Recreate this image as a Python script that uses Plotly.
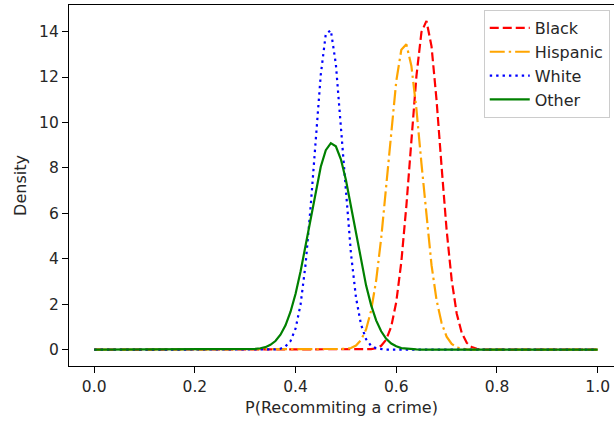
import plotly.graph_objects as go

# ---- data ----
x_black = [0.00, 0.54, 0.55, 0.56, 0.57, 0.58, 0.59, 0.60, 0.61, 0.62, 0.63, 0.64, 0.65, 0.66,
           0.67, 0.68, 0.69, 0.70, 0.71, 0.72, 0.73, 0.74, 0.75, 0.76, 0.77, 0.78, 1.00]
y_black = [0.0, 0.0, 0.02, 0.06, 0.17, 0.44, 1.02, 2.10, 3.86, 6.32, 9.24, 12.04, 13.98, 14.47,
           13.35, 10.98, 8.05, 5.26, 3.07, 1.59, 0.74, 0.30, 0.11, 0.04, 0.01, 0.0, 0.0]

x_hisp = [0.00, 0.49, 0.50, 0.51, 0.52, 0.53, 0.54, 0.55, 0.56, 0.57, 0.58, 0.59, 0.60, 0.61,
          0.62, 0.63, 0.64, 0.65, 0.66, 0.67, 0.68, 0.69, 0.70, 0.71, 0.72, 0.73, 0.74, 0.75, 1.00]
y_hisp = [0.0, 0.0, 0.03, 0.07, 0.18, 0.42, 0.89, 1.72, 3.04, 4.90, 7.20, 9.66, 11.82, 13.20,
          13.44, 12.49, 10.59, 8.19, 5.78, 3.72, 2.18, 1.17, 0.57, 0.25, 0.10, 0.04, 0.01, 0.0, 0.0]

x_white = [0.00, 0.35, 0.36, 0.37, 0.38, 0.39, 0.40, 0.41, 0.42, 0.43, 0.44, 0.45, 0.46, 0.47,
           0.48, 0.49, 0.50, 0.51, 0.52, 0.53, 0.54, 0.55, 0.56, 0.57, 0.58, 1.00]
y_white = [0.0, 0.0, 0.01, 0.04, 0.14, 0.38, 0.93, 2.00, 3.78, 6.32, 9.30, 12.10, 13.89, 14.06,
           12.57, 9.91, 6.90, 4.23, 2.29, 1.10, 0.46, 0.17, 0.06, 0.02, 0.0, 0.0]

x_other = [0.00, 0.29, 0.30, 0.31, 0.32, 0.33, 0.34, 0.35, 0.36, 0.37, 0.38, 0.39, 0.40, 0.41,
           0.42, 0.43, 0.44, 0.45, 0.46, 0.47, 0.48, 0.49, 0.50, 0.51, 0.52, 0.53, 0.54, 0.55,
           0.56, 0.57, 0.58, 0.59, 0.60, 0.61, 0.62, 0.63, 0.64, 0.65, 1.00]
y_other = [0.0, 0.0, 0.005, 0.01, 0.03, 0.06, 0.11, 0.21, 0.38, 0.66, 1.07, 1.67, 2.46, 3.45,
           4.60, 5.83, 7.03, 8.05, 8.78, 9.09, 8.95, 8.38, 7.47, 6.32, 5.09, 3.89, 2.83, 1.96,
           1.29, 0.81, 0.48, 0.27, 0.15, 0.07, 0.04, 0.02, 0.01, 0.0, 0.0]

labels = ["Black", "Hispanic", "White", "Other"]
xs = [x_black, x_hisp, x_white, x_other]
ys = [y_black, y_hisp, y_white, y_other]
colors = ["#ff0000", "#ffa500", "#0000ff", "#008000"]
dashes = ["9px,4px", "15px,4px,2.4px,4px", "2.4px,4px", "solid"]

xtick_vals = [0.0, 0.2, 0.4, 0.6, 0.8, 1.0]
ytick_vals = [0, 2, 4, 6, 8, 10, 12, 14]

FONT = "DejaVu Sans"

fig = go.Figure()
for lab, x, y, c, d in zip(labels, xs, ys, colors, dashes):
    fig.add_trace(go.Scatter(x=x, y=y, mode="lines", name=lab, legendgroup=lab,
                             line=dict(color=c, width=2.2, dash=d)))

fig.update_layout(
    width=614, height=423,
    margin=dict(l=69, r=0, t=5, b=57),
    paper_bgcolor="white", plot_bgcolor="white",
    font=dict(family=FONT, size=16, color="#262626"),
    showlegend=True,
    legend=dict(x=0.761, y=0.986, xanchor="left", yanchor="top",
                bgcolor="rgba(255,255,255,0.8)", bordercolor="#cccccc", borderwidth=1,
                font=dict(family=FONT, size=16, color="#262626"),
                itemwidth=40, tracegroupgap=0),
    xaxis=dict(range=[-0.05, 1.0324], tickvals=xtick_vals,
               ticktext=[f"{v:.1f}" for v in xtick_vals],
               showgrid=False, zeroline=False, showline=True, linecolor="black",
               linewidth=1.2, mirror=True, ticks="outside", ticklen=6, tickwidth=1.2,
               tickcolor="black", tickfont=dict(size=15.5),
               title=dict(text="P(Recommiting a crime)", font=dict(size=16), standoff=7)),
    yaxis=dict(range=[-0.72, 15.17], tickvals=ytick_vals,
               showgrid=False, zeroline=False, showline=True, linecolor="black",
               linewidth=1.2, mirror=False, ticks="outside", ticklen=6, tickwidth=1.2,
               tickcolor="black", tickfont=dict(size=15.5),
               title=dict(text="Density", font=dict(size=16), standoff=8)),
)

fig.write_html("out.html")
